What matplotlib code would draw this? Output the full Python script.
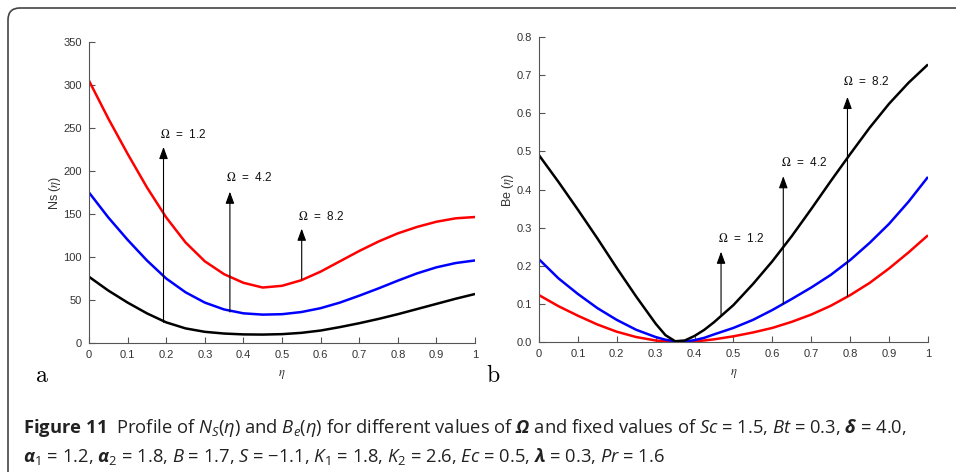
import matplotlib
matplotlib.use("Agg")
import matplotlib.pyplot as plt
from matplotlib.patches import FancyBboxPatch
from matplotlib.transforms import IdentityTransform

# ---- data ---------------------------------------------------------------
eta_a = [0.0, 0.05, 0.1, 0.15, 0.2, 0.25, 0.3, 0.35, 0.4, 0.45, 0.5,
         0.55, 0.6, 0.65, 0.7, 0.75, 0.8, 0.85, 0.9, 0.95, 1.0]

# (a) Ns(eta)
ns_red = [305, 261, 220, 181, 146, 117, 95, 80, 70, 64.5, 66.5,
          73, 83, 95, 107, 118, 127.5, 135, 141, 145, 146.5]
ns_blue = [175, 146, 120, 96, 75, 59, 47, 39, 34.5, 33, 33.5,
           36, 40.5, 47, 55, 63.5, 72.5, 81, 88, 93, 96]
ns_black = [77, 61, 47, 34.5, 24, 17, 13, 11, 10, 9.8, 10.3,
            11.8, 14.5, 18.5, 23, 28, 33.5, 39.5, 45.5, 51.5, 57]

# (b) Be(eta) -- denser near the minimum
eta_b = [0.0, 0.05, 0.1, 0.15, 0.2, 0.25, 0.3, 0.325, 0.35, 0.375, 0.4, 0.425,
         0.45, 0.5, 0.55, 0.6, 0.65, 0.7, 0.75, 0.8, 0.85, 0.9, 0.95, 1.0]
be_red = [0.123, 0.094, 0.069, 0.046, 0.027, 0.013, 0.004, 0.0015, 0.0, 0.0,
          0.002, 0.004, 0.007, 0.015, 0.025, 0.037, 0.053, 0.072, 0.095,
          0.123, 0.155, 0.193, 0.235, 0.28]
be_blue = [0.217, 0.167, 0.126, 0.089, 0.058, 0.032, 0.013, 0.006, 0.002,
           0.001, 0.005, 0.011, 0.02, 0.037, 0.058, 0.084, 0.113, 0.143,
           0.176, 0.215, 0.26, 0.31, 0.368, 0.433]
be_black = [0.49, 0.42, 0.347, 0.272, 0.194, 0.119, 0.048, 0.018, 0.002, 0.004,
            0.016, 0.032, 0.052, 0.097, 0.152, 0.212, 0.278, 0.349, 0.422,
            0.493, 0.562, 0.625, 0.68, 0.728]

omega_labels = [r"$\Omega$  =  1.2", r"$\Omega$  =  4.2", r"$\Omega$  =  8.2"]
# arrows: x, tail y, head y ; label x, label y
a_arrow_x = [0.193, 0.365, 0.551]
a_arrow_y0 = [24, 36, 74]
a_arrow_y1 = [228, 176, 133]
a_label_x = [0.183, 0.356, 0.542]
a_label_y = [243, 193, 147]

b_arrow_x = [0.468, 0.628, 0.793]
b_arrow_y0 = [0.07, 0.10, 0.12]
b_arrow_y1 = [0.237, 0.435, 0.643]
b_label_x = [0.461, 0.621, 0.781]
b_label_y = [0.272, 0.472, 0.682]

axis_col = "#555555"
text_col = "#333333"

plt.rcParams["font.family"] = "Liberation Sans"
plt.rcParams["mathtext.fontset"] = "custom"
plt.rcParams["mathtext.rm"] = "Open Sans"
plt.rcParams["mathtext.it"] = "Open Sans:italic"
plt.rcParams["mathtext.bf"] = "Open Sans:bold"
plt.rcParams["mathtext.bfit"] = "Open Sans:bold:italic"

fig = plt.figure(figsize=(9.56, 4.72), dpi=100)

# rounded frame round the figure
frame = FancyBboxPatch((8, -30), 1000, 472 - 8 + 30,
                       boxstyle="round,pad=0,rounding_size=12",
                       transform=IdentityTransform(), fill=False,
                       edgecolor="#444444", linewidth=1.2)
fig.patches.append(frame)


def style_axes(ax, ylim, yticks, ylabel):
    ax.set_xlim(0, 1)
    ax.set_ylim(*ylim)
    ax.set_xticks([0, 0.1, 0.2, 0.3, 0.4, 0.5, 0.6, 0.7, 0.8, 0.9, 1])
    ax.set_xticklabels(["0", "0.1", "0.2", "0.3", "0.4", "0.5", "0.6",
                        "0.7", "0.8", "0.9", "1"])
    ax.set_yticks(yticks)
    for s in ("top", "right"):
        ax.spines[s].set_visible(False)
    for s in ("left", "bottom"):
        ax.spines[s].set_color(axis_col)
        ax.spines[s].set_linewidth(0.8)
    ax.tick_params(direction="in", length=4, width=0.8, color=axis_col,
                   labelcolor=text_col, labelsize=8, pad=5)
    ax.set_xlabel(r"$\eta$", math_fontfamily="stix", fontsize=9,
                  color=text_col, labelpad=6)
    ax.set_ylabel(ylabel, math_fontfamily="stix", fontsize=9,
                  color=text_col, labelpad=0.5)


arrowprops = dict(arrowstyle="-|>,head_length=0.9,head_width=0.33",
                  mutation_scale=8, color="black", lw=0.8,
                  shrinkA=0, shrinkB=0)
line_kw = dict(lw=1.8, solid_joinstyle="round", solid_capstyle="butt")

# ---- panel a ---------------------------------------------------------------
ax1 = fig.add_axes([0.0931, 0.2733, 0.4038, 0.6377])
ax1.plot(eta_a, ns_red, color="red", **line_kw)
ax1.plot(eta_a, ns_blue, color="blue", **line_kw)
ax1.plot(eta_a, ns_black, color="black", **line_kw)
style_axes(ax1, (0, 350), range(0, 351, 50), r"Ns ($\eta$)")
for i in range(3):
    ax1.annotate("", xy=(a_arrow_x[i], a_arrow_y1[i]),
                 xytext=(a_arrow_x[i], a_arrow_y0[i]), arrowprops=arrowprops)
    ax1.text(a_label_x[i], a_label_y[i], omega_labels[i], fontsize=8.5,
             va="center", ha="left", color="#111111", math_fontfamily="stix")

# ---- panel b ---------------------------------------------------------------
ax2 = fig.add_axes([0.5638, 0.2754, 0.4069, 0.6462])
ax2.plot(eta_b, be_red, color="red", **line_kw)
ax2.plot(eta_b, be_blue, color="blue", **line_kw)
ax2.plot(eta_b, be_black, color="black", **line_kw)
style_axes(ax2, (0, 0.8), [0, 0.1, 0.2, 0.3, 0.4, 0.5, 0.6, 0.7, 0.8],
           r"Be ($\eta$)")
for i in range(3):
    ax2.annotate("", xy=(b_arrow_x[i], b_arrow_y1[i]),
                 xytext=(b_arrow_x[i], b_arrow_y0[i]), arrowprops=arrowprops)
    ax2.text(b_label_x[i], b_label_y[i], omega_labels[i], fontsize=8.5,
             va="center", ha="left", color="#111111", math_fontfamily="stix")

# panel letters
fig.text(35 / 956, 1 - 382 / 472, r"$\mathrm{a}$", math_fontfamily="cm",
         fontsize=17, va="baseline")
fig.text(486 / 956, 1 - 382 / 472, r"$\mathrm{b}$", math_fontfamily="cm",
         fontsize=17, va="baseline")

# ---- caption -------------------------------------------------------------
cap1 = (r"$\mathbf{Figure\ 11}$  Profile of $N_S(\eta)$ and $B_e(\eta)$ for "
        r"different values of $\mathbfit{\Omega}$ and fixed values of "
        r"$Sc$ = 1.5, $Bt$ = 0.3, $\mathbfit{\delta}$ = 4.0,")
cap2 = (r"$\mathbfit{\alpha}_1$ = 1.2, $\mathbfit{\alpha}_2$ = 1.8, "
        r"$B$ = 1.7, $S$ = $-$1.1, $K_1$ = 1.8, $K_2$ = 2.6, $Ec$ = 0.5, "
        r"$\mathbfit{\lambda}$ = 0.3, $Pr$ = 1.6")
fig.text(23 / 956, 1 - 433 / 472, cap1, family="Open Sans", fontsize=13.2,
         color="#222222", va="baseline")
fig.text(23 / 956, 1 - 462 / 472, cap2, family="Open Sans", fontsize=13.2,
         color="#222222", va="baseline")

fig.savefig("out.png", dpi=100)
